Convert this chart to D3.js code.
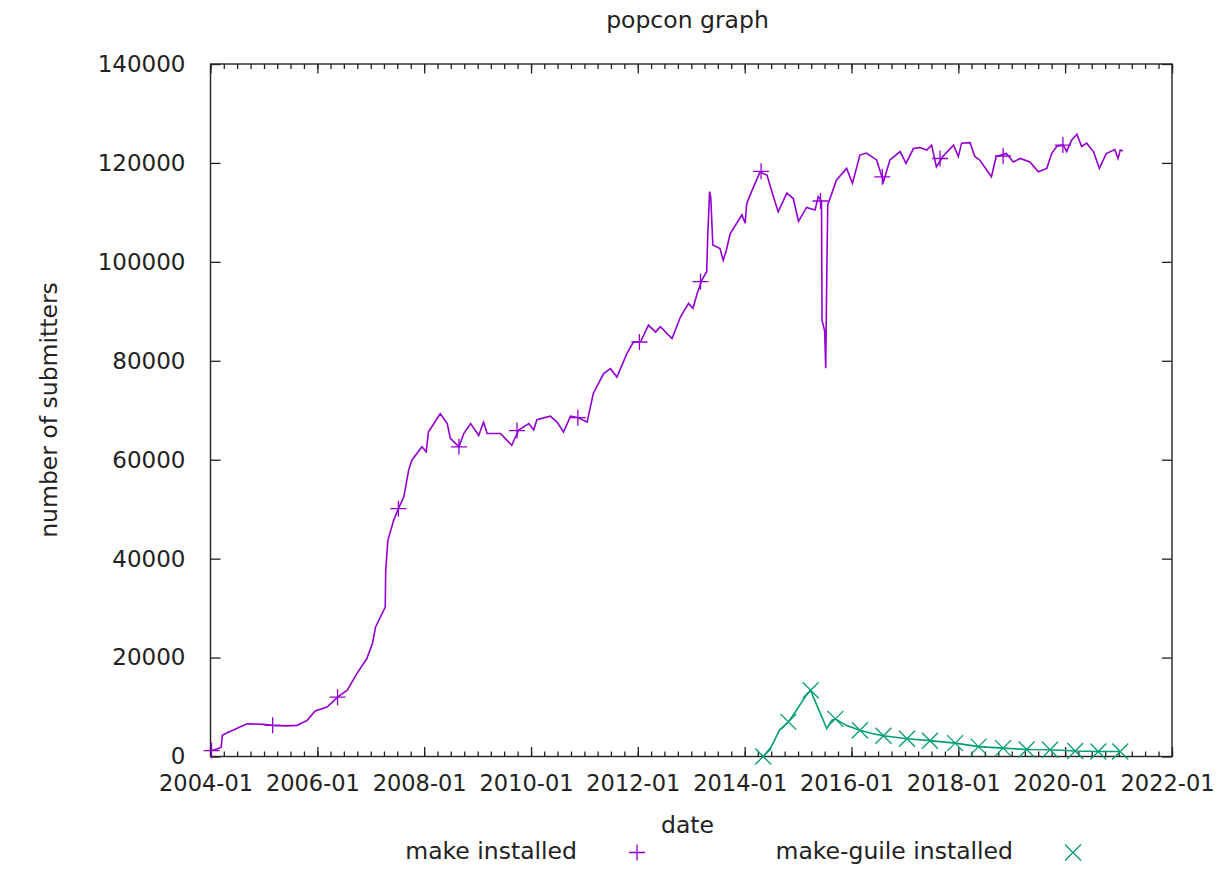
<!DOCTYPE html>
<html>
<head>
<meta charset="utf-8">
<script src="https://cdn.jsdelivr.net/npm/d3@7"></script>
<style>
  body { margin: 0; background: #fff; }
  svg text { font-family: "DejaVu Sans", sans-serif; fill: #222; }
</style>
</head>
<body>
<div id="visualization"></div>
<script>
// make installed
const makeData = [
  ['2004-01-08', 1200], ['2004-02-14', 1500], ['2004-03-14', 1900], ['2004-03-22', 4300],
  ['2004-05-01', 4900], ['2004-06-10', 5400], ['2004-07-23', 6000], ['2004-09-09', 6600],
  ['2005-01-01', 6500], ['2005-03-01', 6300], ['2005-05-27', 6200], ['2005-08-15', 6300],
  ['2005-10-23', 7300], ['2005-12-17', 9200], ['2006-03-08', 10000], ['2006-05-19', 12000],
  ['2006-07-24', 13400], ['2006-09-27', 16700], ['2006-12-05', 19800], ['2007-01-12', 22800],
  ['2007-02-03', 26200], ['2007-04-10', 30200], ['2007-04-13', 37600], ['2007-04-28', 43700],
  ['2007-06-07', 47800], ['2007-07-09', 50100], ['2007-08-15', 52500], ['2007-09-17', 57900],
  ['2007-10-09', 59900], ['2007-12-17', 62600], ['2008-01-15', 61600], ['2008-01-30', 65600],
  ['2008-04-20', 69300], ['2008-06-07', 67300], ['2008-06-28', 64300], ['2008-08-26', 62600],
  ['2008-09-28', 65300], ['2008-11-14', 67300], ['2009-01-08', 64900], ['2009-02-10', 67600],
  ['2009-03-07', 65300], ['2009-06-06', 65300], ['2009-08-22', 62900], ['2009-10-08', 66000],
  ['2009-12-17', 67300], ['2010-01-19', 66000], ['2010-02-10', 68100], ['2010-05-12', 68800],
  ['2010-06-28', 67600], ['2010-08-11', 65600], ['2010-09-28', 68800], ['2010-11-22', 68500],
  ['2011-01-19', 67600], ['2011-03-03', 73400], ['2011-05-12', 77400], ['2011-06-28', 78400],
  ['2011-08-11', 76700], ['2011-10-19', 81500], ['2011-12-02', 83800], ['2012-01-19', 83800],
  ['2012-03-14', 87200], ['2012-05-01', 85800], ['2012-06-03', 86900], ['2012-08-22', 84500],
  ['2012-10-19', 88900], ['2012-12-13', 91600], ['2013-01-12', 90600], ['2013-02-10', 93600],
  ['2013-03-14', 96300], ['2013-04-16', 98000], ['2013-04-23', 105000], ['2013-05-06', 114200],
  ['2013-05-14', 113000], ['2013-05-28', 103400], ['2013-07-16', 102700], ['2013-08-07', 100300],
  ['2013-08-29', 102400], ['2013-09-24', 105700], ['2013-11-07', 107800], ['2013-12-13', 109500],
  ['2014-01-04', 107800], ['2014-01-15', 111800], ['2014-02-21', 114500], ['2014-04-16', 118200],
  ['2014-06-03', 117500], ['2014-07-16', 113200], ['2014-08-18', 110100], ['2014-10-16', 113900],
  ['2014-11-29', 112800], ['2015-01-04', 108200], ['2015-02-28', 111000], ['2015-04-27', 110500],
  ['2015-05-19', 113200], ['2015-06-10', 112300], ['2015-06-14', 88200], ['2015-07-02', 86000],
  ['2015-07-09', 78500], ['2015-07-16', 96500], ['2015-07-23', 111500], ['2015-09-20', 116500],
  ['2015-11-29', 118900], ['2016-01-08', 115900], ['2016-02-28', 121600], ['2016-04-12', 122000],
  ['2016-06-21', 120600], ['2016-08-07', 116200], ['2016-09-20', 120600], ['2016-11-29', 122300],
  ['2017-01-08', 119900], ['2017-02-28', 122900], ['2017-04-12', 123100], ['2017-05-30', 122600],
  ['2017-07-02', 123600], ['2017-08-04', 119200], ['2017-09-17', 121300], ['2017-11-29', 123600],
  ['2018-01-01', 121300], ['2018-01-23', 124000], ['2018-03-22', 124100], ['2018-04-23', 121300],
  ['2018-05-27', 120600], ['2018-08-15', 117200], ['2018-09-17', 121300], ['2018-11-25', 121900],
  ['2019-01-12', 120200], ['2019-02-28', 120900], ['2019-05-05', 120200], ['2019-07-02', 118200],
  ['2019-08-29', 118900], ['2019-10-01', 121900], ['2019-11-07', 123400], ['2019-12-20', 123600],
  ['2020-01-12', 122300], ['2020-02-14', 124600], ['2020-03-22', 125800], ['2020-04-23', 123300],
  ['2020-05-27', 124000], ['2020-07-13', 122300], ['2020-08-22', 118900], ['2020-10-09', 121900],
  ['2020-12-06', 122700], ['2020-12-28', 120900], ['2021-01-12', 122600], ['2021-01-30', 122400]
];

// points where gnuplot drew the "+" symbol
const makeMarks = [
  ['2004-01-08', 1200], ['2005-03-01', 6300], ['2006-05-19', 12000], ['2007-07-09', 50100],
  ['2008-08-26', 62600], ['2009-09-27', 65900], ['2010-11-17', 68500], ['2012-01-12', 83800],
  ['2013-03-05', 96000], ['2014-04-23', 118300], ['2015-06-03', 112300], ['2016-07-30', 117200],
  ['2017-08-29', 120900], ['2018-11-03', 121400], ['2019-12-17', 123600]
];

// make-guile installed
const guileData = [
  ['2014-05-08', 0], ['2014-07-01', 1900], ['2014-08-26', 5300], ['2014-10-27', 7000],
  ['2014-12-13', 9000], ['2015-02-24', 12300], ['2015-03-28', 13400], ['2015-04-20', 11700],
  ['2015-06-14', 7900], ['2015-07-16', 5600], ['2015-08-18', 7300], ['2015-09-13', 7600],
  ['2015-11-25', 6300], ['2016-02-28', 5300], ['2016-05-27', 4600], ['2016-08-07', 4200],
  ['2017-01-15', 3600], ['2017-06-21', 3200], ['2017-12-10', 2700], ['2018-05-19', 2000],
  ['2018-11-03', 1700], ['2019-04-13', 1400], ['2019-09-20', 1350], ['2020-03-10', 1100],
  ['2020-08-15', 1000], ['2021-01-12', 1000]
];

// dates of guileData that carry the "x" symbol
const guileMarks = [
  '2014-05-08', '2014-10-27', '2015-03-28', '2015-09-13', '2016-02-28', '2016-08-07',
  '2017-01-15', '2017-06-21', '2017-12-10', '2018-05-19', '2018-11-03', '2019-04-13',
  '2019-09-20', '2020-03-10', '2020-08-15', '2021-01-12'
];

const yTicks = [0, 20000, 40000, 60000, 80000, 100000, 120000, 140000];
const seriesNames = ['make installed', 'make-guile installed'];

const W = 1219, H = 870;
const margin = {top: 64, right: 47, bottom: 114, left: 210.5};
const purple = '#9400d3', green = '#009e73';
const parseTime = d3.timeParse('%Y-%m-%d');

const x = d3.scaleTime()
  .domain([new Date(2004, 0, 1), new Date(2022, 0, 1)])
  .range([margin.left, W - margin.right]);
const y = d3.scaleLinear()
  .domain([0, 140000])
  .range([H - margin.bottom + 0.5, margin.top]);

const svg = d3.select('#visualization').append('svg')
  .attr('width', W).attr('height', H);

const fs = '23.5px';

// x axis, bottom and mirrored top
const majorX = d3.timeYear.every(2).range(new Date(2004, 0, 1), new Date(2022, 0, 2));
const minorX = d3.timeMonth.every(3).range(new Date(2004, 0, 1), new Date(2022, 0, 2));

function xAxes(sel, axisFn, yPos, withLabels) {
  sel.append('g').attr('transform', `translate(0,${yPos})`)
    .call(axisFn(x).tickValues(minorX).tickSize(-5).tickSizeOuter(0).tickFormat(''));
  const g = sel.append('g').attr('transform', `translate(0,${yPos})`)
    .call(axisFn(x).tickValues(majorX).tickSize(-9.5).tickSizeOuter(0)
      .tickPadding(19).tickFormat(withLabels ? d3.timeFormat('%Y-%m') : ''));
  g.selectAll('text').style('font-size', '22.5px').attr('fill', '#222').attr('x', -5);
}
const axes = svg.append('g');
xAxes(axes, d3.axisBottom, y(0), true);
xAxes(axes, d3.axisTop, margin.top, false);

// y axis, left and mirrored right
const gy = axes.append('g').attr('transform', `translate(${margin.left},0)`)
  .call(d3.axisLeft(y).tickValues(yTicks).tickSize(-10).tickSizeOuter(0)
    .tickPadding(25).tickFormat(d3.format('d')));
gy.selectAll('text').style('font-size', '23px').attr('fill', '#222');
axes.append('g').attr('transform', `translate(${W - margin.right},0)`)
  .call(d3.axisRight(y).tickValues(yTicks).tickSize(-10).tickSizeOuter(0).tickFormat(''));

axes.selectAll('.domain').remove();
axes.selectAll('line').attr('stroke', '#222').attr('stroke-width', 1.3);

// border
svg.append('rect')
  .attr('x', margin.left).attr('y', margin.top)
  .attr('width', W - margin.right - margin.left)
  .attr('height', y(0) - margin.top)
  .attr('fill', 'none').attr('stroke', '#222').attr('stroke-width', 1.4);

// lines
const line = d3.line().x(d => x(parseTime(d[0]))).y(d => y(d[1]));

svg.append('path').datum(makeData)
  .attr('d', line).attr('fill', 'none')
  .attr('stroke', purple).attr('stroke-width', 1.6);

svg.append('path').datum(guileData)
  .attr('d', line).attr('fill', 'none')
  .attr('stroke', green).attr('stroke-width', 1.6);

// point symbols
const plus = s => `M${-s},0H${s}M0,${-s}V${s}`;
const cross = s => `M${-s},${-s}L${s},${s}M${-s},${s}L${s},${-s}`;

svg.append('g').selectAll('path').data(makeMarks).join('path')
  .attr('transform', d => `translate(${x(parseTime(d[0]))},${y(d[1])})`)
  .attr('d', plus(8)).attr('fill', 'none')
  .attr('stroke', purple).attr('stroke-width', 1.3);

const guileMarkData = guileData.filter(d => guileMarks.includes(d[0]));
svg.append('g').selectAll('path').data(guileMarkData).join('path')
  .attr('transform', d => `translate(${x(parseTime(d[0]))},${y(d[1])})`)
  .attr('d', cross(8)).attr('fill', 'none')
  .attr('stroke', green).attr('stroke-width', 1.3);

// titles
svg.append('text').attr('x', 687.5).attr('y', 27.5)
  .attr('text-anchor', 'middle').style('font-size', fs).text('popcon graph');
svg.append('text').attr('x', 687.5).attr('y', 833)
  .attr('text-anchor', 'middle').style('font-size', fs).text('date');
svg.append('text')
  .attr('transform', 'translate(57,410) rotate(-90)')
  .attr('text-anchor', 'middle').style('font-size', fs).text('number of submitters');

// key below the plot
const key = svg.append('g');
const keyX = [577, 1013];
const keyColors = [purple, green];
const keySymbols = [plus(8), cross(8)];
seriesNames.forEach((name, i) => {
  key.append('text').attr('x', keyX[i]).attr('y', 858.5)
    .attr('text-anchor', 'end').style('font-size', fs).text(name);
  key.append('path')
    .attr('transform', `translate(${keyX[i] + 60},852.5)`)
    .attr('d', keySymbols[i]).attr('fill', 'none')
    .attr('stroke', keyColors[i]).attr('stroke-width', 1.3);
});
</script>
</body>
</html>
